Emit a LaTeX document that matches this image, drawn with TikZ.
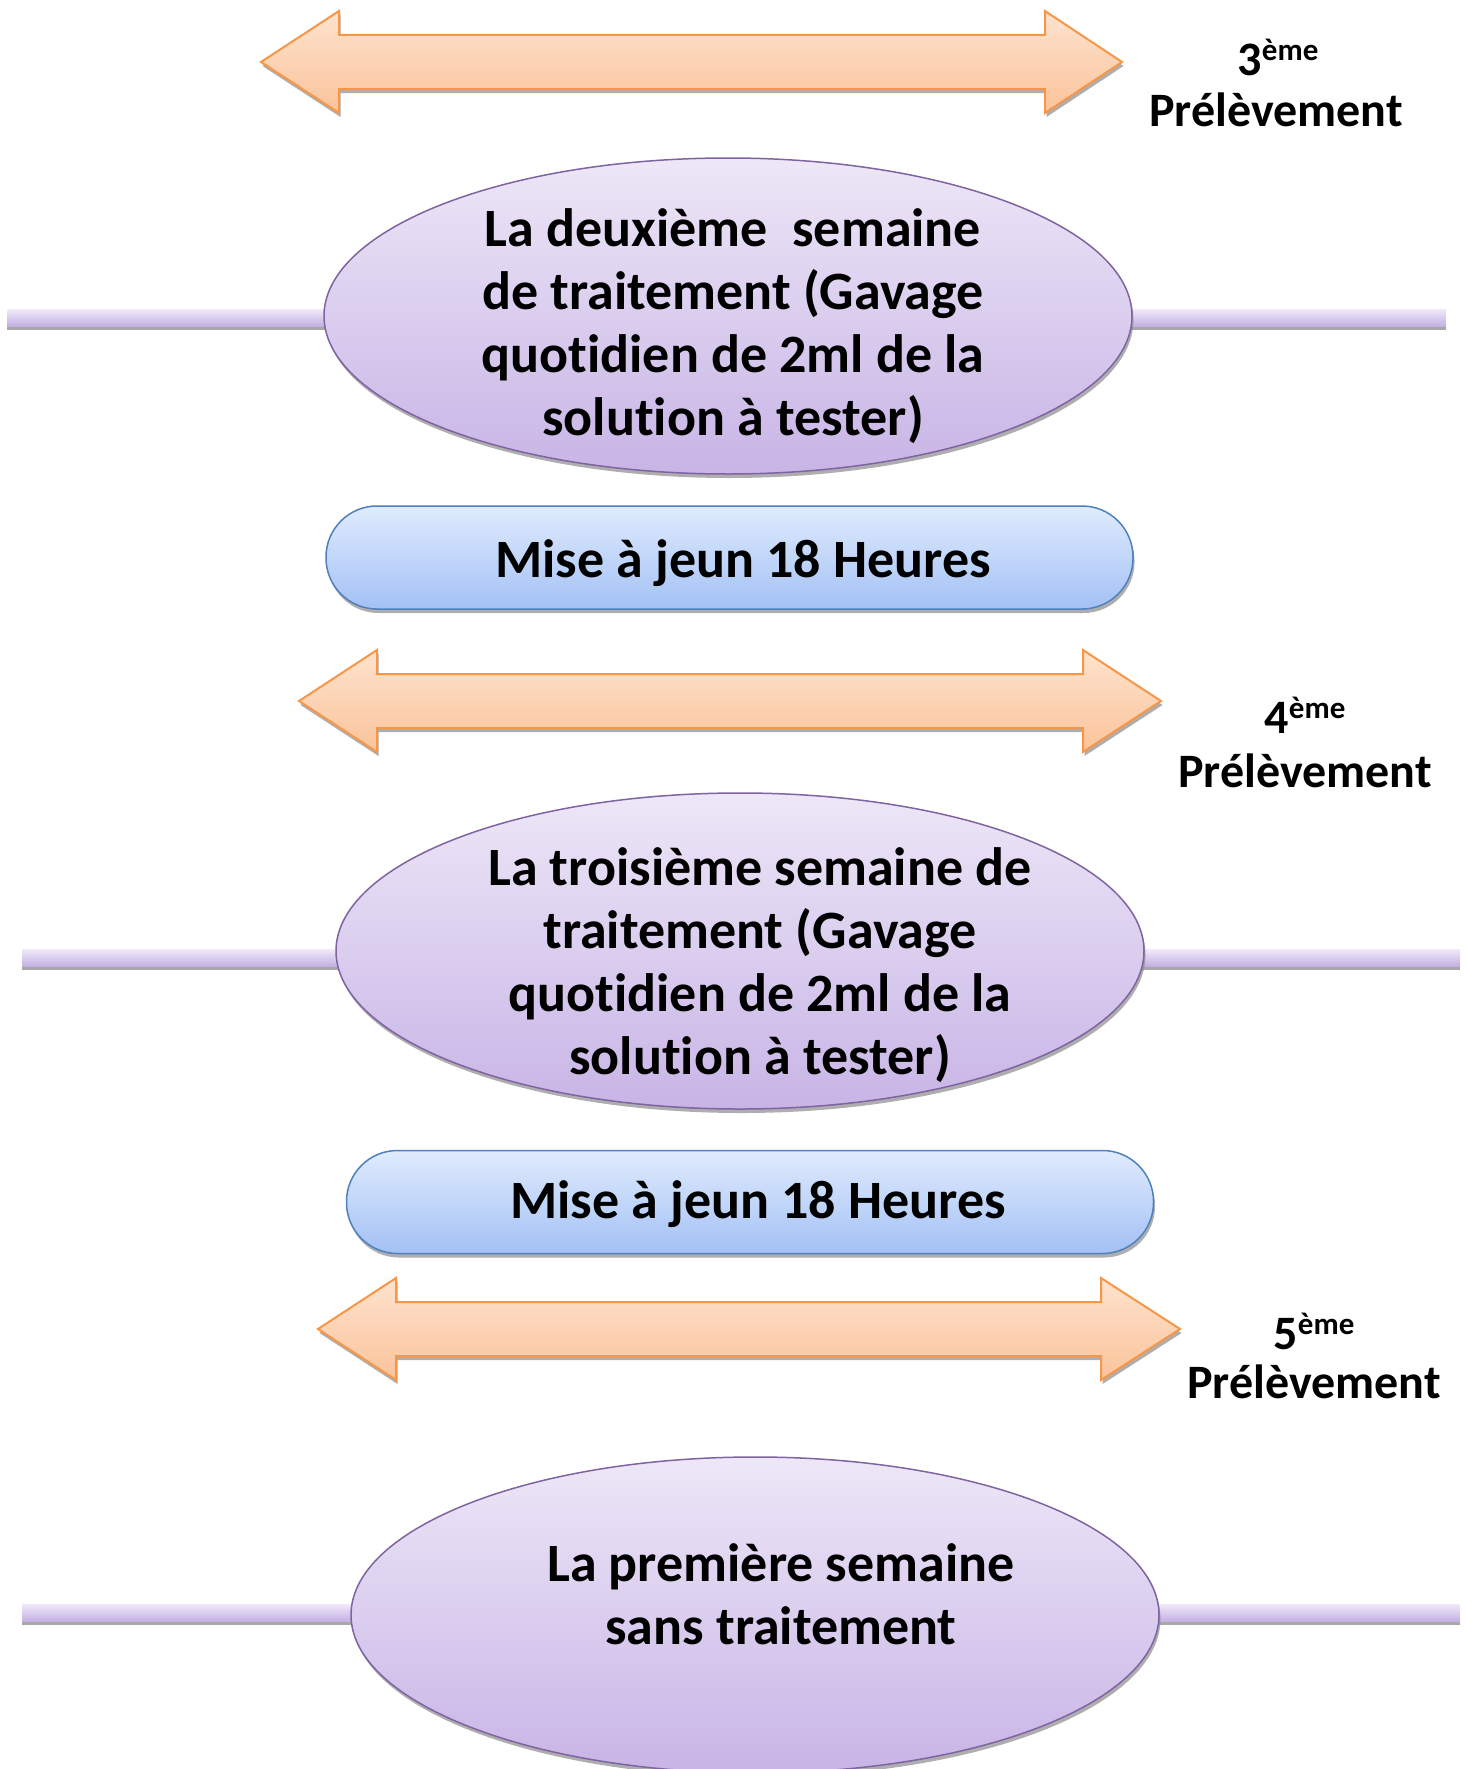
\documentclass[tikz,border=0pt]{standalone}
\usepackage{fontspec}
\setmainfont{Carlito}[Ligatures=NoCommon]
\usetikzlibrary{shapes.geometric,shadows}
\definecolor{ellTop}{HTML}{EDE7F7}
\definecolor{ellBot}{HTML}{C8B4E6}
\definecolor{ellLine}{HTML}{8064A2}
\definecolor{boxTop}{HTML}{E0EBFD}
\definecolor{boxBot}{HTML}{A3C1F5}
\definecolor{boxLine}{HTML}{4F81BD}
\definecolor{arrTop}{HTML}{FDE3CE}
\definecolor{arrBot}{HTML}{FBC39A}
\definecolor{arrLine}{HTML}{F79646}
\definecolor{barTop}{HTML}{F0EAF9}
\definecolor{barBot}{HTML}{C5B0E4}
\tikzset{
  shadowed/.style={drop shadow={shadow xshift=1.5pt,shadow yshift=-4pt,opacity=0.7,fill=gray!90}},
  weekell/.style={ellipse,minimum width=808pt,minimum height=316pt,inner sep=0pt,
    top color=ellTop,bottom color=ellBot,draw=ellLine,line width=1.5pt,shadowed},
  fastbox/.style={rectangle,rounded corners=51pt,minimum width=807pt,minimum height=103pt,
    top color=boxTop,bottom color=boxBot,draw=boxLine,line width=1.5pt,shadowed},
  bigtxt/.style={align=center,font=\fontsize{54}{63}\selectfont\bfseries,inner sep=0pt},
  lbltxt/.style={anchor=base,font=\fontsize{48}{58}\selectfont\bfseries,inner sep=0pt},
  timebar/.style={top color=barTop,bottom color=barBot,draw=none,
    drop shadow={shadow xshift=0pt,shadow yshift=-4pt,opacity=0.75,fill=gray!90}},
  dblarr/.style={top color=arrTop,bottom color=arrBot,draw=arrLine,line width=2pt,line join=miter,shadowed},
}
\newcommand\ordeme[1]{#1\raisebox{15pt}{\fontsize{31}{31}\selectfont ème}}
\newcommand\dblarrow[5]{% xtipL, xshaftL, xshaftR, xtipR, ycenter
  \path[dblarr] (#1,#5) -- (#2,#5-51) -- (#2,#5-27) -- (#3,#5-27) -- (#3,#5-51)
    -- (#4,#5) -- (#3,#5+51) -- (#3,#5+27) -- (#2,#5+27) -- (#2,#5+51) -- cycle;}
\begin{document}
\begin{tikzpicture}[x=1pt,y=-1pt]
\useasboundingbox (0,0) rectangle (1466,1769);
\fill[white] (0,0) rectangle (1466,1769);

% ---- Arrow 1 and label
\dblarrow{261}{339}{1045}{1122}{62}
\node[lbltxt] (n3) at (1278,76) {\ordeme{3}};
\node[lbltxt] (p3) at (1276,126) {Prélèvement};

% ---- Week 2
\coordinate (b1l) at (7,309);
\coordinate (b1r) at (1446,326);
\path[timebar] (b1l) rectangle (b1r);
\node[weekell] (e1) at (728,316) {};
\node[bigtxt] (t1) at (733,326) {La deuxième\ \ semaine\\de traitement (Gavage\\quotidien de 2ml de la\\solution à tester)};

% ---- Fasting 1
\node[fastbox] (f1) at (729.5,557.5) {};
\node[bigtxt] (f1t) at (743,563) {Mise à jeun 18 Heures};

% ---- Arrow 2 and label
\dblarrow{299}{377}{1083}{1161}{701}
\node[lbltxt] (n4) at (1305,733) {\ordeme{4}};
\node[lbltxt] (p4) at (1305,787) {Prélèvement};

% ---- Week 3
\coordinate (b2l) at (22,949);
\coordinate (b2r) at (1460,966);
\path[timebar] (b2l) rectangle (b2r);
\node[weekell] (e2) at (740,951) {};
\node[bigtxt] (t2) at (760,965) {La troisième semaine de\\traitement (Gavage\\quotidien de 2ml de la\\solution à tester)};

% ---- Fasting 2
\node[fastbox] (f2) at (750,1202) {};
\node[bigtxt] (f2t) at (758,1204) {Mise à jeun 18 Heures};

% ---- Arrow 3 and label
\dblarrow{318}{396}{1101}{1180}{1329}
\node[lbltxt] (n5) at (1314,1349) {\ordeme{5}};
\node[lbltxt] (p5) at (1314,1398) {Prélèvement};

% ---- Week 1
\coordinate (b3l) at (22,1604);
\coordinate (b3r) at (1460,1621);
\path[timebar] (b3l) rectangle (b3r);
\node[weekell] (e3) at (755,1615) {};
\node[bigtxt] (t3) at (781,1594) {La première semaine\\sans traitement};
\end{tikzpicture}
\end{document}
